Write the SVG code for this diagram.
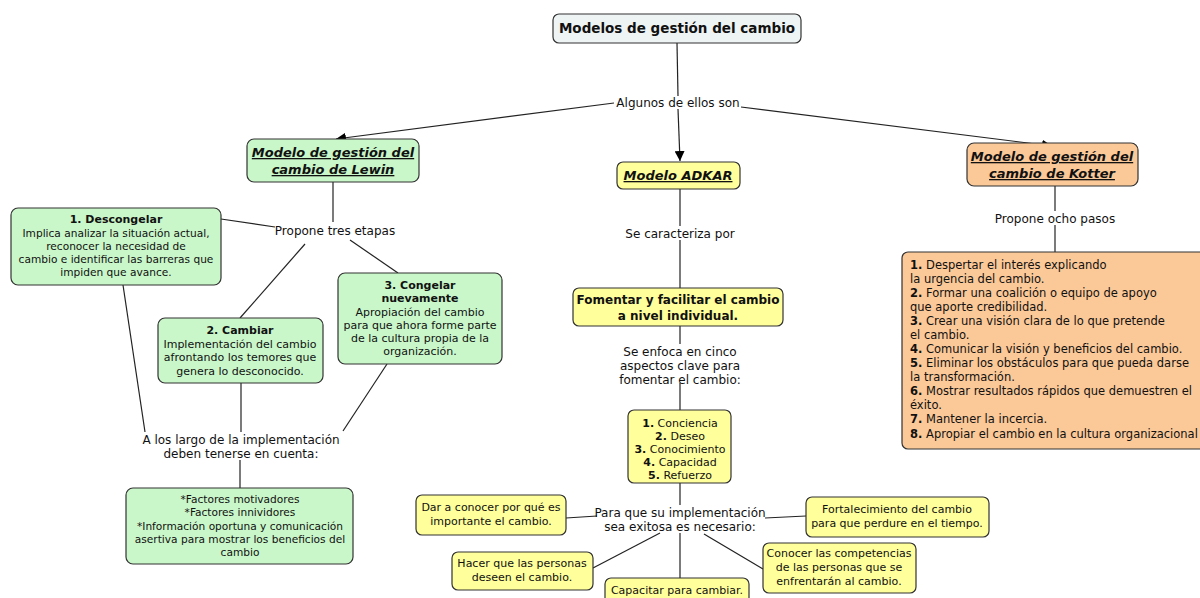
<svg xmlns="http://www.w3.org/2000/svg" width="1200" height="598" viewBox="0 0 1200 598">
<defs>
<marker id="arr" viewBox="0 0 10 10" refX="10" refY="5" markerWidth="10" markerHeight="10" markerUnits="userSpaceOnUse" orient="auto">
<path d="M0,0 L10,5 L0,10 z" fill="#000"/>
</marker>
<style>
text{font-family:"DejaVu Sans","Verdana",sans-serif;font-size:11px;fill:#111;}
.c{text-anchor:middle;}
.b{font-weight:bold;}
.h{font-weight:bold;font-style:italic;text-decoration:underline;font-size:13px;text-anchor:middle;}
.lbl{font-size:12px;text-anchor:middle;}
.k{font-size:11.5px;}
.s{font-size:10.6px;}
.box{stroke:#333;stroke-width:1.2;}
.g{fill:#c9f7c9;}
.y{fill:#ffff9c;}
.o{fill:#fbc898;}
.t{fill:#eef3f4;}
.ln{stroke:#222;stroke-width:1.2;fill:none;}
</style>
</defs>
<rect width="1200" height="598" fill="#fff"/>
<g id="connectors">
<line class="ln" x1="677" y1="43" x2="678" y2="96"/>
<line class="ln" x1="678" y1="109" x2="680" y2="161" marker-end="url(#arr)"/>
<line class="ln" x1="614" y1="103" x2="336" y2="139" marker-end="url(#arr)"/>
<line class="ln" x1="741" y1="107" x2="1052" y2="146" marker-end="url(#arr)"/>
<line class="ln" x1="333" y1="182" x2="333" y2="222"/>
<line class="ln" x1="221" y1="219" x2="275" y2="227"/>
<line class="ln" x1="305" y1="244" x2="240" y2="318"/>
<line class="ln" x1="350" y1="240" x2="398" y2="273"/>
<line class="ln" x1="123" y1="285" x2="145" y2="432"/>
<line class="ln" x1="241" y1="383" x2="241" y2="432"/>
<line class="ln" x1="387" y1="364" x2="343" y2="431"/>
<line class="ln" x1="240" y1="460" x2="240" y2="488"/>
<line class="ln" x1="1055" y1="186" x2="1055" y2="211"/>
<line class="ln" x1="1055" y1="225" x2="1055" y2="252"/>
<line class="ln" x1="680" y1="189" x2="680" y2="226"/>
<line class="ln" x1="680" y1="240" x2="680" y2="288"/>
<line class="ln" x1="680" y1="326" x2="680" y2="344"/>
<line class="ln" x1="680" y1="383" x2="680" y2="410"/>
<line class="ln" x1="680" y1="483" x2="680" y2="505"/>
<line class="ln" x1="566" y1="518" x2="597" y2="516"/>
<line class="ln" x1="765" y1="518" x2="806" y2="516"/>
<line class="ln" x1="660" y1="533" x2="593" y2="568"/>
<line class="ln" x1="680" y1="533" x2="680" y2="578"/>
<line class="ln" x1="704" y1="534" x2="763" y2="569"/>
</g>
<g id="title">
<rect class="box t" x="553" y="14" width="248" height="29" rx="6"/>
<text class="c b" x="677" y="33" style="font-size:13.5px">Modelos de gestión del cambio</text>
</g>
<g id="lbl-algunos"><text class="lbl" x="678" y="107">Algunos de ellos son</text></g>
<g id="lewin">
<rect class="box g" x="247" y="139" width="172" height="43" rx="7"/>
<text class="h" x="333" y="157">Modelo de gestión del</text>
<text class="h" x="333" y="174">cambio de Lewin</text>
</g>
<g id="adkar">
<rect class="box y" x="617" y="162" width="123" height="27" rx="6"/>
<text class="h" x="678" y="180">Modelo ADKAR</text>
</g>
<g id="kotter">
<rect class="box o" x="967" y="143" width="171" height="43" rx="7"/>
<text class="h" x="1052" y="161">Modelo de gestión del</text>
<text class="h" x="1052" y="178">cambio de Kotter</text>
</g>
<g id="lbl-ocho"><text class="lbl" x="1055" y="223">Propone ocho pasos</text></g>
<g id="kotter-list">
<rect class="box o" x="902" y="252" width="310" height="197" rx="6"/>
<text class="k" x="910" y="269"><tspan class="b">1.</tspan> Despertar el interés explicando</text>
<text class="k" x="910" y="283">la urgencia del cambio.</text>
<text class="k" x="910" y="297"><tspan class="b">2.</tspan> Formar una coalición o equipo de apoyo</text>
<text class="k" x="910" y="311">que aporte credibilidad.</text>
<text class="k" x="910" y="325"><tspan class="b">3.</tspan> Crear una visión clara de lo que pretende</text>
<text class="k" x="910" y="339">el cambio.</text>
<text class="k" x="910" y="353"><tspan class="b">4.</tspan> Comunicar la visión y beneficios del cambio.</text>
<text class="k" x="910" y="367"><tspan class="b">5.</tspan> Eliminar los obstáculos para que pueda darse</text>
<text class="k" x="910" y="381">la transformación.</text>
<text class="k" x="910" y="395"><tspan class="b">6.</tspan> Mostrar resultados rápidos que demuestren el</text>
<text class="k" x="910" y="409">éxito.</text>
<text class="k" x="910" y="423"><tspan class="b">7.</tspan> Mantener la incercia.</text>
<text class="k" x="910" y="438"><tspan class="b">8.</tspan> Apropiar el cambio en la cultura organizacional</text>
</g>
<g id="lbl-tres"><text class="lbl" x="335" y="235">Propone tres etapas</text></g>
<g id="descongelar">
<rect class="box g" x="11" y="208" width="210" height="77" rx="7"/>
<text class="c b" x="116" y="223">1. Descongelar</text>
<text class="c s" x="116" y="237">Implica analizar la situación actual,</text>
<text class="c s" x="116" y="250">reconocer la necesidad de</text>
<text class="c s" x="116" y="263">cambio e identificar las barreras que</text>
<text class="c s" x="116" y="276">impiden que avance.</text>
</g>
<g id="cambiar">
<rect class="box g" x="158" y="318" width="165" height="65" rx="7"/>
<text class="c b" x="240" y="334">2. Cambiar</text>
<text class="c" x="240" y="348">Implementación del cambio</text>
<text class="c" x="240" y="361">afrontando los temores que</text>
<text class="c" x="240" y="375">genera lo desconocido.</text>
</g>
<g id="congelar">
<rect class="box g" x="338" y="273" width="164" height="91" rx="7"/>
<text class="c b" x="420" y="289">3. Congelar</text>
<text class="c b" x="420" y="302">nuevamente</text>
<text class="c" x="420" y="316">Apropiación del cambio</text>
<text class="c" x="420" y="329">para que ahora forme parte</text>
<text class="c" x="420" y="342">de la cultura propia de la</text>
<text class="c" x="420" y="355">organización.</text>
</g>
<g id="lbl-largo">
<text class="lbl" x="241" y="444">A los largo de la implementación</text>
<text class="lbl" x="241" y="458">deben tenerse en cuenta:</text>
</g>
<g id="factores">
<rect class="box g" x="126" y="488" width="227" height="76" rx="7"/>
<text class="c s" x="240" y="503">*Factores motivadores</text>
<text class="c s" x="240" y="516">*Factores innividores</text>
<text class="c s" x="240" y="530">*Información oportuna y comunicación</text>
<text class="c s" x="240" y="543">asertiva para mostrar los beneficios del</text>
<text class="c s" x="240" y="556">cambio</text>
</g>
<g id="lbl-caracteriza"><text class="lbl" x="680" y="238">Se caracteriza por</text></g>
<g id="fomentar">
<rect class="box y" x="573" y="288" width="210" height="38" rx="6"/>
<text class="c b" x="678" y="304" style="font-size:12px">Fomentar y facilitar el cambio</text>
<text class="c b" x="678" y="320" style="font-size:12px">a nivel individual.</text>
</g>
<g id="lbl-enfoca">
<text class="lbl" x="680" y="356">Se enfoca en cinco</text>
<text class="lbl" x="680" y="370">aspectos clave para</text>
<text class="lbl" x="680" y="384">fomentar el cambio:</text>
</g>
<g id="aspectos">
<rect class="box y" x="628" y="410" width="103" height="73" rx="6"/>
<text class="c" x="680" y="427"><tspan class="b">1.</tspan> Conciencia</text>
<text class="c" x="680" y="440"><tspan class="b">2.</tspan> Deseo</text>
<text class="c" x="680" y="453"><tspan class="b">3.</tspan> Conocimiento</text>
<text class="c" x="680" y="466"><tspan class="b">4.</tspan> Capacidad</text>
<text class="c" x="680" y="479"><tspan class="b">5.</tspan> Refuerzo</text>
</g>
<g id="lbl-exitosa">
<text class="lbl" x="680" y="517">Para que su implementación</text>
<text class="lbl" x="680" y="531">sea exitosa es necesario:</text>
</g>
<g id="dar">
<rect class="box y" x="416" y="495" width="150" height="40" rx="6"/>
<text class="c" x="491" y="511">Dar a conocer por qué es</text>
<text class="c" x="491" y="525">importante el cambio.</text>
</g>
<g id="fortalecimiento">
<rect class="box y" x="806" y="497" width="183" height="40" rx="6"/>
<text class="c" x="897" y="513">Fortalecimiento del cambio</text>
<text class="c" x="897" y="527">para que perdure en el tiempo.</text>
</g>
<g id="hacer">
<rect class="box y" x="452" y="552" width="141" height="38" rx="6"/>
<text class="c" x="522" y="567">Hacer que las personas</text>
<text class="c" x="522" y="581">deseen el cambio.</text>
</g>
<g id="capacitar">
<rect class="box y" x="605" y="578" width="144" height="30" rx="6"/>
<text class="c" x="677" y="594">Capacitar para cambiar.</text>
</g>
<g id="conocer">
<rect class="box y" x="763" y="543" width="153" height="50" rx="6"/>
<text class="c" x="839" y="557">Conocer las competencias</text>
<text class="c" x="839" y="571">de las personas que se</text>
<text class="c" x="839" y="585">enfrentarán al cambio.</text>
</g>
</svg>
